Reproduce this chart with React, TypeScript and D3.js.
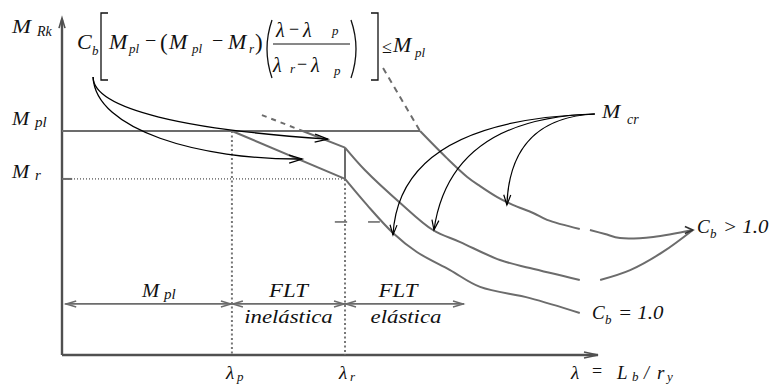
import React from 'react';
import * as d3 from 'd3';

const W = 773;
const H = 385;

// Slenderness λ in axis units (0–100) and moment as % of M_pl
const lambdaP = 31.7;
const lambdaR = 52.8;
const momentPl = 100;
const momentR = 78.6;
const lambdaAxisEnd = 100;
const momentAxisEnd = 149.5;

// Elastic branch, C_b = 1.0
const elasticCb1: number[][] = [[52.8, 78.6], [56.9, 67.0], [61.75, 54.5], [66.2, 46.0], [72.4, 37.9], [78.0, 30.4], [87.3, 25.4], [96.6, 18.75]];
// Elastic branch, intermediate C_b
const elasticCbMid: number[][] = [[52.8, 92.6], [56.5, 82.6], [63.1, 67.9], [69.2, 55.8], [74.3, 50.4], [81.7, 42.4], [87.3, 38.8], [96.6, 33.5]];
const elasticCbMidTail: number[][] = [[100.4, 33.5], [106.0, 37.9], [112.1, 46.0], [117.7, 55.8]];
// Elastic branch, highest C_b
const elasticCbHigh: number[][] = [[66.8, 100], [71.8, 87.9], [75.6, 79.5], [78.0, 75.4], [81.2, 70.5], [84.1, 67.0], [87.9, 63.4], [90.5, 60.3], [96.6, 56.25]];
const elasticCbHighTail: number[][] = [[98.5, 55.8], [101.3, 54.0], [104.1, 52.2], [110.3, 52.7], [117.7, 55.8]];
// M_cr above the plastic moment (dashed)
const mcrAbovePl: number[][] = [[59.9, 128.1], [66.8, 100]];
// Inelastic branch scaled by C_b > 1
const inelasticHighAbove: number[][] = [[37.3, 107.1], [44.9, 100]];
const inelasticHighBelow: number[][] = [[44.9, 100], [52.8, 92.6]];

// M_cr callout arrows: origin, control points and targets on the curves
const mcrOrigin = [99.4, 107.6];
const mcrControls: number[][] = [[62.9, 104.9], [72.4, 105.8], [83.6, 105.8]];
const mcrTargets: number[][] = [[61.75, 53.6], [69.4, 55.8], [83.0, 67.0]];

// Formula callout arrows (cubic)
const formulaOrigin = [5.8, 124.1];
const formulaCtrl1: number[][] = [[5.8, 109.4], [6.2, 100.4]];
const formulaCtrl2: number[][] = [[23.9, 100.4], [25.7, 87.1]];
const formulaTargets: number[][] = [[49.6, 96.4], [44.8, 87.5]];

// Region dimension line
const zoneLevel = 22.8;
const zoneBounds = [0.6, lambdaP, lambdaR, 75.0];

// Small tick marks near λr
const tickLevel = 59.4;
const tickSpans: number[][] = [[50.9, 53.2], [57.1, 59.3]];

const GREY = '#6c6c6c';
const AXIS = '#505050';
const FONT = "'Liberation Serif', 'Times New Roman', serif";

type Pt = [number, number];

function head(tip: Pt, from: Pt, len: number, half: number): string {
  const dx = tip[0] - from[0];
  const dy = tip[1] - from[1];
  const d = Math.hypot(dx, dy) || 1;
  const ux = dx / d, uy = dy / d;
  const nx = -uy, ny = ux;
  const bx = tip[0] - ux * len, by = tip[1] - uy * len;
  return `M${bx + nx * half},${by + ny * half}L${tip[0]},${tip[1]}L${bx - nx * half},${by - ny * half}`;
}

function T({ x, y, s, sx = 1, a = 'start', it = true, children }: any) {
  return (
    <text
      transform={`translate(${x},${y}) scale(${sx},1)`}
      fontSize={s}
      textAnchor={a}
      fontStyle={it ? 'italic' : 'normal'}
      fill="#111"
    >
      {children}
    </text>
  );
}

export default function App() {
  const x = d3.scaleLinear().domain([0, 100]).range([62, 598]);
  const y = d3.scaleLinear().domain([0, 100]).range([355, 131]);
  const P = (p: number[]): Pt => [x(p[0]), y(p[1])];

  const smooth = d3.line<number[]>().x(d => x(d[0])).y(d => y(d[1])).curve(d3.curveCatmullRom.alpha(0.5));
  const straight = d3.line<number[]>().x(d => x(d[0])).y(d => y(d[1]));

  const mcrPaths = mcrTargets.map((t, i) => {
    const p = d3.path();
    const o = P(mcrOrigin), c = P(mcrControls[i]), e = P(t);
    p.moveTo(o[0], o[1]);
    p.quadraticCurveTo(c[0], c[1], e[0], e[1]);
    return { d: p.toString(), h: head(e, c, 10, 3.5) };
  });

  const formulaPaths = formulaTargets.map((t, i) => {
    const p = d3.path();
    const o = P(formulaOrigin), c1 = P(formulaCtrl1[i]), c2 = P(formulaCtrl2[i]), e = P(t);
    p.moveTo(o[0], o[1]);
    p.bezierCurveTo(c1[0], c1[1], c2[0], c2[1], e[0], e[1]);
    return { d: p.toString(), h: head(e, c2, 13, 4) };
  });

  const x0 = x(0), y0 = y(0);
  const xEnd = x(lambdaAxisEnd), yTop = y(momentAxisEnd);
  const zy = y(zoneLevel);

  const joinTip = P(elasticCbHighTail[elasticCbHighTail.length - 1]);

  return (
    <svg width={W} height={H} style={{ position: 'absolute', left: 0, top: 0, background: '#fff' }} fontFamily={FONT}>
      {/* axes */}
      <line x1={x0} y1={y0} x2={x0} y2={yTop} stroke={AXIS} strokeWidth={2.4} />
      <path d={head([x0, yTop - 2], [x0, y0], 10, 3)} fill="none" stroke={AXIS} strokeWidth={1.6} />
      <line x1={x0} y1={y0} x2={xEnd} y2={y0} stroke={AXIS} strokeWidth={2.6} />
      <path d={head([xEnd, y0], [x0, y0], 14, 3)} fill="none" stroke={AXIS} strokeWidth={1.5} />

      {/* plastic plateau and M_r reference */}
      <line x1={x0} y1={y(momentPl)} x2={x(elasticCbHigh[0][0])} y2={y(momentPl)} stroke={GREY} strokeWidth={2} />
      <line x1={x0} y1={y(momentR)} x2={x(lambdaR)} y2={y(momentR)} stroke="#222" strokeWidth={1} strokeDasharray="1,2" />
      <line x1={x0} y1={y(momentR)} x2={x(1.9)} y2={y(momentR)} stroke={GREY} strokeWidth={2} />

      {/* λp and λr guides */}
      <line x1={x(lambdaP)} y1={y(momentPl)} x2={x(lambdaP)} y2={y0} stroke="#777" strokeWidth={2} strokeDasharray="2,2.5" />
      <line x1={x(lambdaR)} y1={y(momentR)} x2={x(lambdaR)} y2={y0} stroke="#777" strokeWidth={2} strokeDasharray="2,2.5" />
      <line x1={x(lambdaR)} y1={y(elasticCbMid[0][1])} x2={x(lambdaR)} y2={y(momentR)} stroke={GREY} strokeWidth={2} />

      {/* inelastic branches */}
      <path d={straight([[lambdaP, momentPl], [lambdaR, momentR]]) || ''} fill="none" stroke={GREY} strokeWidth={2} />
      <path d={straight(inelasticHighAbove) || ''} fill="none" stroke={GREY} strokeWidth={2} strokeDasharray="5,5" />
      <path d={straight(inelasticHighBelow) || ''} fill="none" stroke={GREY} strokeWidth={2} />

      {/* elastic branches */}
      <path d={smooth(elasticCb1) || ''} fill="none" stroke={GREY} strokeWidth={2} />
      <path d={smooth(elasticCbMid) || ''} fill="none" stroke={GREY} strokeWidth={2} />
      <path d={smooth(elasticCbMidTail) || ''} fill="none" stroke={GREY} strokeWidth={2} />
      <path d={smooth(elasticCbHigh) || ''} fill="none" stroke={GREY} strokeWidth={2} />
      <path d={smooth(elasticCbHighTail) || ''} fill="none" stroke={GREY} strokeWidth={2} />
      <path d={straight(mcrAbovePl) || ''} fill="none" stroke={GREY} strokeWidth={2} strokeDasharray="6,5" />
      <path d={head(joinTip, [joinTip[0] - 10, joinTip[1]], 8, 3.5)} fill="none" stroke="#333" strokeWidth={1.6} />

      {/* small ticks */}
      {tickSpans.map((s, i) => (
        <line key={i} x1={x(s[0])} y1={y(tickLevel)} x2={x(s[1])} y2={y(tickLevel)} stroke={GREY} strokeWidth={1.6} />
      ))}

      {/* region dimension line */}
      <line x1={x(zoneBounds[0])} y1={zy} x2={x(zoneBounds[3])} y2={zy} stroke={GREY} strokeWidth={1.8} />
      {zoneBounds.slice(0, 3).map((b, i) => {
        const l = x(b), r = x(zoneBounds[i + 1]);
        return (
          <g key={i}>
            <path d={head([l + 1, zy], [r, zy], 10, 3)} fill="none" stroke={GREY} strokeWidth={1.5} />
            <path d={head([r - 1, zy], [l, zy], 10, 3)} fill="none" stroke={GREY} strokeWidth={1.5} />
          </g>
        );
      })}

      {/* callout arrows */}
      {mcrPaths.map((m, i) => (
        <g key={i}>
          <path d={m.d} fill="none" stroke="#000" strokeWidth={1.2} />
          <path d={m.h} fill="none" stroke="#000" strokeWidth={1.2} />
        </g>
      ))}
      {formulaPaths.map((m, i) => (
        <g key={i}>
          <path d={m.d} fill="none" stroke="#000" strokeWidth={1.3} />
          <path d={m.h} fill="none" stroke="#000" strokeWidth={1.3} />
        </g>
      ))}

      {/* formula */}
      <T x={77} y={49} s={22}>C</T>
      <T x={92} y={55} s={13}>b</T>
      <path d="M108,13 L101,13 L101,80 L108,80" fill="none" stroke="#111" strokeWidth={1.3} />
      <T x={109} y={49} s={22}>M</T>
      <T x={129} y={53} s={13}>pl</T>
      <T x={145} y={47} s={20} it={false}>−</T>
      <T x={160} y={50} s={23} it={false}>(</T>
      <T x={169} y={49} s={22}>M</T>
      <T x={192} y={53} s={13}>pl</T>
      <T x={212} y={47} s={20} it={false}>−</T>
      <T x={228} y={49} s={22}>M</T>
      <T x={249} y={53} s={13}>r</T>
      <T x={255} y={50} s={23} it={false}>)</T>
      <path d="M272,20 Q262,49 272,78" fill="none" stroke="#111" strokeWidth={1.3} />
      <T x={276} y={37} s={20}>λ</T>
      <T x={289} y={35} s={18} it={false}>−</T>
      <T x={303} y={37} s={20}>λ</T>
      <T x={332} y={35} s={13}>p</T>
      <line x1={273} y1={44} x2={350} y2={44} stroke="#111" strokeWidth={1} />
      <T x={273} y={72} s={20}>λ</T>
      <T x={290} y={73} s={13}>r</T>
      <T x={297} y={70} s={18} it={false}>−</T>
      <T x={311} y={72} s={20}>λ</T>
      <T x={334} y={75} s={13}>p</T>
      <path d="M351,20 Q361,49 351,78" fill="none" stroke="#111" strokeWidth={1.3} />
      <path d="M371,13 L378,13 L378,80 L371,80" fill="none" stroke="#111" strokeWidth={1.3} />
      <T x={382} y={53} s={18} it={false}>≤</T>
      <T x={393} y={52} s={22}>M</T>
      <T x={415} y={57} s={13}>pl</T>

      {/* axis labels */}
      <T x={12} y={33} s={19} sx={1.2}>M</T>
      <T x={37} y={36} s={14}>Rk</T>
      <T x={12} y={125} s={18} sx={1.15}>M</T>
      <T x={35} y={127} s={15}>pl</T>
      <T x={12} y={178} s={18} sx={1.15}>M</T>
      <T x={35} y={180} s={15}>r</T>

      {/* region labels */}
      <T x={142} y={297} s={18} sx={1.15}>M</T>
      <T x={164} y={299} s={15}>pl</T>
      <T x={(x(lambdaP) + x(lambdaR)) / 2} y={297} s={19} sx={1.2} a="middle">FLT</T>
      <T x={(x(lambdaP) + x(lambdaR)) / 2} y={323} s={19} sx={1.2} a="middle">inelástica</T>
      <T x={398} y={297} s={19} sx={1.2} a="middle">FLT</T>
      <T x={406} y={323} s={19} sx={1.2} a="middle">elástica</T>

      {/* λ ticks */}
      <T x={x(lambdaP) - 6} y={379} s={19}>λ</T>
      <T x={x(lambdaP) + 5} y={381} s={13}>p</T>
      <T x={x(lambdaR) - 6} y={379} s={19}>λ</T>
      <T x={x(lambdaR) + 5} y={381} s={13}>r</T>
      <T x={571} y={379} s={19}>λ</T>
      <T x={592} y={377} s={18} it={false}>=</T>
      <T x={617} y={379} s={19}>L</T>
      <T x={632} y={381} s={13}>b</T>
      <T x={644} y={379} s={18}>/</T>
      <T x={657} y={379} s={19}>r</T>
      <T x={667} y={381} s={13}>y</T>

      {/* curve labels */}
      <T x={602} y={118} s={19} sx={1.15}>M</T>
      <T x={627} y={124} s={14}>cr</T>
      <T x={697} y={233} s={19}>C</T>
      <T x={710} y={238} s={13}>b</T>
      <T x={723} y={233} s={19} sx={1.1}>&gt; 1.0</T>
      <T x={592} y={319} s={19}>C</T>
      <T x={605} y={324} s={13}>b</T>
      <T x={618} y={319} s={19} sx={1.1}>= 1.0</T>
    </svg>
  );
}
